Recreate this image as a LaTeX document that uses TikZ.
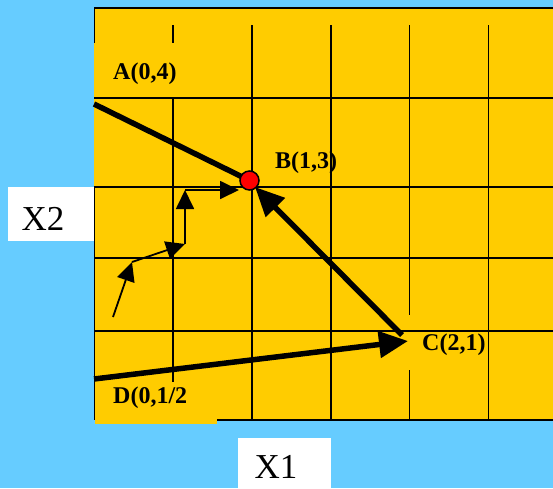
\documentclass[tikz,border=0pt]{standalone}
\usepackage{fontspec}
\setmainfont{Liberation Serif}
\usetikzlibrary{arrows.meta}
\definecolor{skyblue}{HTML}{66CCFF}
\definecolor{gold}{HTML}{FFCC00}
\definecolor{dotred}{HTML}{FF0000}
\tikzset{
  gridline/.style={line width=1.8pt,black},
  thickarrow/.style={line width=5.5pt,-{Triangle[length=29pt,width=26pt]}},
  thickline/.style={line width=5.5pt},
  thinarrow/.style={line width=1.8pt,-{Triangle[length=19pt,width=18pt]}},
  ptlabel/.style={font=\fontsize{24}{28}\selectfont\bfseries,inner sep=0pt,anchor=base west},
  axislabel/.style={font=\fontsize{35}{40}\selectfont,inner sep=0pt,anchor=base},
  dot/.style={circle,draw=black,line width=1.5pt,fill=dotred,minimum size=19pt,inner sep=0pt}
}
\begin{document}
\begin{tikzpicture}[x=1pt,y=-1pt]
\useasboundingbox (0,0) rectangle (553,488);
\fill[skyblue] (0,0) rectangle (553,488);
\fill[gold] (94,8) rectangle (553,420);
\fill[gold] (95,383) rectangle (217,424);
% white axis boxes
\fill[white] (8,187) rectangle (94,241);
\fill[white] (238,438) rectangle (331,488);
% grid: horizontal
\draw[gridline] (94,8) -- (553,8);
\foreach \y in {98,187,258,331} \draw[gridline] (94,\y) -- (553,\y);
\draw[gridline] (217,420) -- (553,420);
% grid: vertical
\draw[gridline] (94.5,8) -- (94.5,43);
\draw[gridline] (94.5,187) -- (94.5,420);
\draw[gridline] (173,25) -- (173,43);
\draw[gridline] (173,98) -- (173,382);
\draw[gridline] (252,25) -- (252,420);
\draw[gridline] (331,25) -- (331,420);
\draw[gridline] (409.5,25) -- (409.5,315);
\draw[gridline] (409.5,370) -- (409.5,420);
\draw[gridline] (488.5,25) -- (488.5,420);
% points
\coordinate (pA) at (94,104);
\coordinate (pB) at (249.5,180.5);
\coordinate (pBtip) at (255,187);
\coordinate (pC) at (402,335);
\coordinate (pCtip) at (408,341);
\coordinate (pD) at (94,379);
\coordinate (s0) at (113,317);
\coordinate (s1) at (132,262);
\coordinate (s2) at (185,244);
\coordinate (s3) at (185,190);
\coordinate (s4) at (239,190);
% thick lines
\draw[thickline] (pA) -- (pB);
\draw[thickarrow] (pC) -- (pBtip);
\draw[thickarrow] (pD) -- (pCtip);
% thin stepped arrows
\draw[thinarrow] (s0) -- (s1);
\draw[thinarrow] (s1) -- (s2);
\draw[thinarrow] (s2) -- (s3);
\draw[thinarrow] (s3) -- (s4);
% red point B
\node[dot] (dotB) at (pB) {};
% labels
\node[ptlabel] (labA) at (113,79) {A(0,4)};
\node[ptlabel] (labB) at (275,168) {B(1,3)};
\node[ptlabel] (labC) at (422,350) {C(2,1)};
\node[ptlabel] (labD) at (113,403) {D(0,1/2};
\node[axislabel] (labX2) at (43,230) {X2};
\node[axislabel] (labX1) at (276,478) {X1};
\end{tikzpicture}
\end{document}
